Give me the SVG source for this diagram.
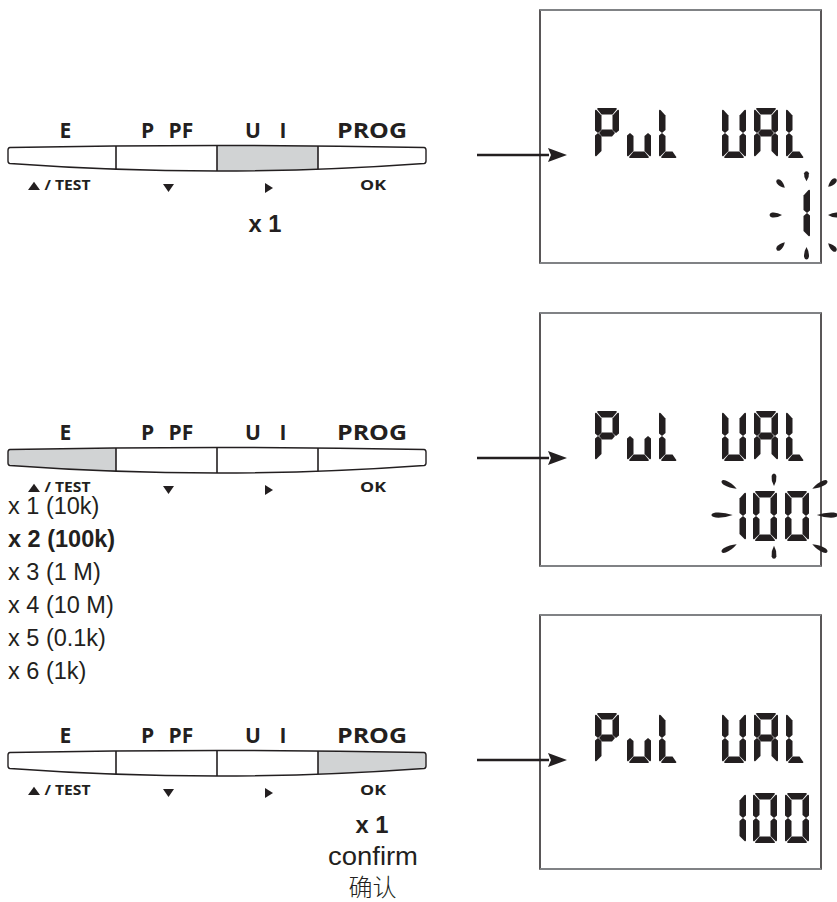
<svg xmlns="http://www.w3.org/2000/svg" width="837" height="902" viewBox="0 0 837 902">
<style>
.lbl{font-family:"Open Sans","DejaVu Sans",sans-serif;font-weight:700;fill:#231f20}
.top{font-size:21px}
.bot{font-size:15px}
.hv{font-family:"Liberation Sans",Arial,sans-serif;fill:#231f20}
.bar{fill:none;stroke:#231f20;stroke-width:1.4}
.div{stroke:#231f20;stroke-width:1.6}
.hl{fill:#d1d3d4}
.lcd{fill:#fff;stroke:#231f20;stroke-width:1.5}
.edge{stroke:#808285;stroke-width:2}
.seg{fill:#231f20}
.arr{stroke:#231f20;stroke-width:2.6;fill:none}
.tri{fill:#231f20}
</style>
<defs>
<path id="barShape" d="M10,147.5 Q217,143.5 424,147.5 Q426,147.7 426,150 V161 Q426,163.3 424,163.5 Q217,178.5 10,163.5 Q8,163.3 8,161 V150 Q8,147.7 10,147.5 Z"/>
<clipPath id="barClip"><use href="#barShape"/></clipPath>
<marker id="ah" markerUnits="userSpaceOnUse" markerWidth="20" markerHeight="14" refX="1" refY="7" orient="auto">
<path d="M0,0 L19,7 L0,14 L3,7 Z" fill="#231f20"/>
</marker>
<path id="sa" class="seg" d="M3,0 H21 Q22.5,0 21.5,1.5 L17.5,6.5 H6.5 L2.5,1.5 Q1.5,0 3,0 Z"/>
<path id="sb" class="seg" d="M24,3 V22.5 L21,25 L17.5,22 V7.5 L22.5,2 Q24,1 24,3 Z"/>
<path id="sc" class="seg" d="M24,27.5 V47 Q24,49 22.5,48 L17.5,43 V28 L21,25 Z"/>
<path id="sd" class="seg" d="M6.5,43.5 H17.5 L21.5,48.5 Q22.5,50 21,50 H3 Q1.5,50 2.5,48.5 Z"/>
<path id="sdL" class="seg" d="M6.5,43.5 H13.5 L17,48.5 Q18,50 16.5,50 H3 Q1.5,50 2.5,48.5 Z"/>
<path id="se" class="seg" d="M0,27.5 L3,25 L6.5,28 V43 L1.5,48 Q0,49 0,47 Z"/>
<path id="sf" class="seg" d="M0,3 Q0,1 1.5,2 L6.5,7.5 V22 L3,25 L0,22.5 Z"/>
<path id="sg" class="seg" d="M4,25 L7,21.5 H17 L20,25 L17,28.5 H7 Z"/>
<g id="chP"><use href="#sa"/><use href="#sb"/><use href="#sf"/><use href="#sg"/><use href="#se"/></g>
<g id="chu"><use href="#se"/><use href="#sd"/><use href="#sc"/></g>
<g id="chL"><use href="#sf"/><use href="#se"/><use href="#sdL"/></g>
<g id="chU"><use href="#sb"/><use href="#sc"/><use href="#sd"/><use href="#se"/><use href="#sf"/></g>
<g id="chA"><use href="#sa"/><use href="#sb"/><use href="#sc"/><use href="#se"/><use href="#sf"/><use href="#sg"/></g>
<g id="ch1"><use href="#sb"/><use href="#sc"/></g>
<g id="ch0"><use href="#sa"/><use href="#sb"/><use href="#sc"/><use href="#sd"/><use href="#se"/><use href="#sf"/></g>
<g id="title"><use href="#chP" x="595" y="108"/><use href="#chu" x="627" y="108"/><use href="#chL" x="659" y="108"/><use href="#chU" x="722" y="108"/><use href="#chA" x="754" y="108"/><use href="#chL" x="786" y="108"/></g>
<g id="v100"><use href="#ch1" x="722" y="188"/><use href="#ch0" x="753" y="188"/><use href="#ch0" x="785" y="188"/></g>
<path id="ray" class="seg" d="M-6,0 Q-1,-3 4,-2.4 Q6.5,-1.8 6.5,0 Q6.5,1.8 4,2.4 Q-1,3 -6,0 Z"/>
<g id="btnLabels">
<text class="lbl top" x="65.5" y="138" text-anchor="middle">E</text>
<text class="lbl top" x="141" y="138">P</text>
<text class="lbl top" x="168.5" y="138">PF</text>
<text class="lbl top" x="245" y="138">U</text>
<text class="lbl top" x="279.5" y="138">I</text>
<text class="lbl top" x="337" y="138" textLength="70" lengthAdjust="spacingAndGlyphs">PROG</text>
<polygon class="tri" points="28,190 40,190 34,181.7"/>
<text class="lbl bot" x="44.5" y="190" textLength="46" lengthAdjust="spacingAndGlyphs">/ TEST</text>
<polygon class="tri" points="163,184 174,184 168.5,192"/>
<polygon class="tri" points="265,183 273,188 265,193"/>
<text class="lbl bot" x="360" y="190" textLength="26" lengthAdjust="spacingAndGlyphs">OK</text>
</g>
<g id="dividers">
<line class="div" x1="116" y1="146" x2="116" y2="169.2"/>
<line class="div" x1="217" y1="145.5" x2="217" y2="171"/>
<line class="div" x1="318" y1="146" x2="318" y2="169.2"/>
</g>
</defs>

<g id="bar1">
<rect class="hl" x="217" y="140" width="101" height="40" clip-path="url(#barClip)"/>
<use href="#barShape" class="bar"/>
<use href="#dividers"/>
<use href="#btnLabels"/>
<text class="hv" x="248.5" y="232" font-size="23" font-weight="700" textLength="33" lengthAdjust="spacingAndGlyphs">x 1</text>
</g>

<g id="bar2" transform="translate(0,302)">
<rect class="hl" x="0" y="140" width="116" height="40" clip-path="url(#barClip)"/>
<use href="#barShape" class="bar"/>
<use href="#dividers"/>
<use href="#btnLabels"/>
</g>
<g id="list" class="hv" font-size="23.5">
<text x="8" y="514">x 1 (10k)</text>
<text x="8" y="547" font-weight="700">x 2 (100k)</text>
<text x="8" y="580">x 3 (1 M)</text>
<text x="8" y="613">x 4 (10 M)</text>
<text x="8" y="646">x 5 (0.1k)</text>
<text x="8" y="679">x 6 (1k)</text>
</g>

<g id="bar3" transform="translate(0,605)">
<rect class="hl" x="318" y="140" width="112" height="40" clip-path="url(#barClip)"/>
<use href="#barShape" class="bar"/>
<use href="#dividers"/>
<use href="#btnLabels"/>
</g>
<g id="confirm" class="hv">
<text x="355.5" y="833" font-size="23" font-weight="700" textLength="33" lengthAdjust="spacingAndGlyphs">x 1</text>
<text x="328" y="865" font-size="25" textLength="90" lengthAdjust="spacingAndGlyphs">confirm</text>
<text x="372.5" y="896" font-size="24" font-weight="300" text-anchor="middle" style="font-family:'Noto Sans CJK SC',sans-serif">确认</text>
</g>

<g id="lcd1">
<rect class="lcd" x="540" y="10" width="281" height="253"/>
<line class="edge" x1="540" y1="10" x2="821" y2="10"/>
<line class="edge" x1="540" y1="263" x2="821" y2="263"/>
<use href="#title"/>
<use href="#ch1" x="786" y="188"/>
<use href="#ray" transform="translate(806.5,176.5) rotate(-90) scale(0.8,1)"/>
<use href="#ray" transform="translate(806.5,253) rotate(90)"/>
<use href="#ray" transform="translate(776,215) rotate(180)"/>
<use href="#ray" transform="translate(834,215)"/>
<use href="#ray" transform="translate(781,184) rotate(-135) scale(0.9,1)"/>
<use href="#ray" transform="translate(781,246) rotate(135) scale(0.9,1)"/>
<use href="#ray" transform="translate(832,183) rotate(-45) scale(0.9,1)"/>
<use href="#ray" transform="translate(832,247) rotate(45) scale(0.9,1)"/>
</g>

<g id="lcd2" transform="translate(0,303)">
<rect class="lcd" x="540" y="10" width="281" height="253"/>
<line class="edge" x1="540" y1="10" x2="821" y2="10"/>
<line class="edge" x1="540" y1="263" x2="821" y2="263"/>
<use href="#title"/>
<use href="#v100"/>
<use href="#ray" transform="translate(774,177) rotate(-90)"/>
<use href="#ray" transform="translate(774,249) rotate(90) scale(1.05,1)"/>
<use href="#ray" transform="translate(722.5,212) rotate(180) scale(1.7,1.05)"/>
<use href="#ray" transform="translate(827,212) scale(1.7,1.05)"/>
<use href="#ray" transform="translate(729.5,182) rotate(-153) scale(1.35,1)"/>
<use href="#ray" transform="translate(729.5,245) rotate(153) scale(1.35,1)"/>
<use href="#ray" transform="translate(819.5,182) rotate(-27) scale(1.35,1)"/>
<use href="#ray" transform="translate(819.5,245) rotate(27) scale(1.35,1)"/>
</g>

<g id="lcd3" transform="translate(0,605)">
<rect class="lcd" x="540" y="10" width="281" height="254"/>
<line class="edge" x1="540" y1="10" x2="821" y2="10"/>
<line class="edge" x1="540" y1="264" x2="821" y2="264"/>
<use href="#title"/>
<use href="#v100"/>
</g>

<g id="connectors">
<line class="arr" x1="477" y1="155" x2="549" y2="155" marker-end="url(#ah)"/>
<line class="arr" x1="477" y1="458" x2="549" y2="458" marker-end="url(#ah)"/>
<line class="arr" x1="477" y1="760" x2="549" y2="760" marker-end="url(#ah)"/>
</g>
</svg>
